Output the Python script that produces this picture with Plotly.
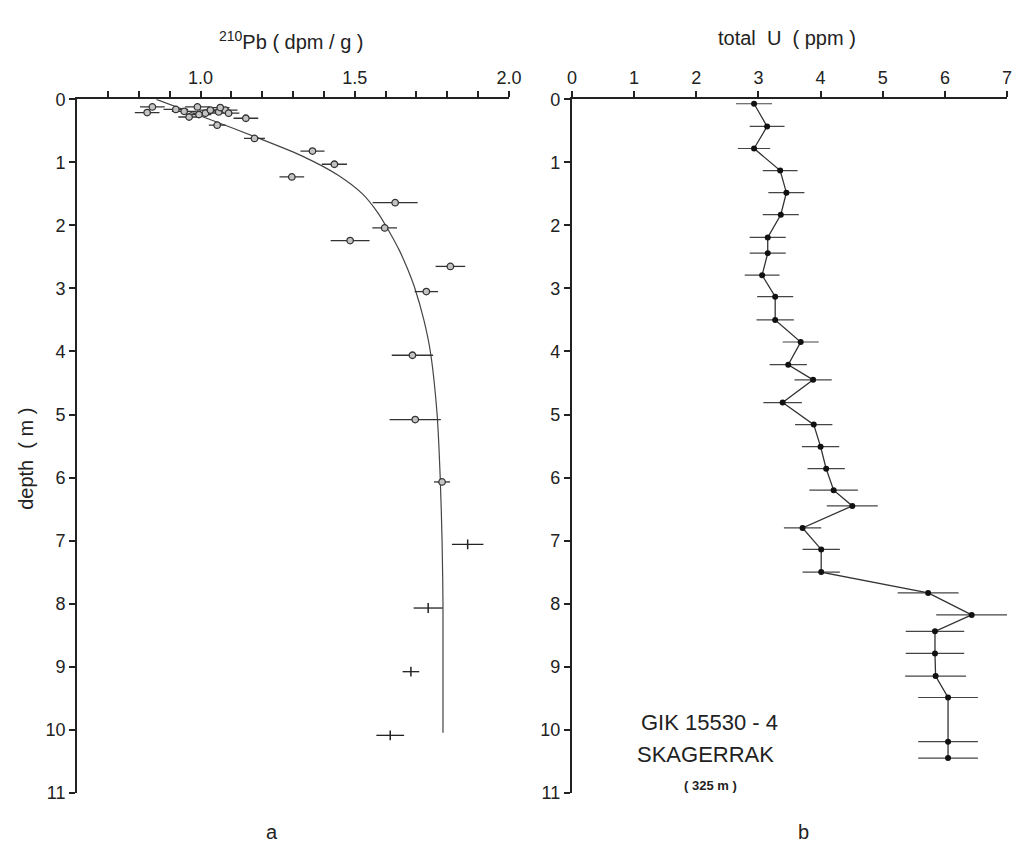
import plotly.graph_objects as go

W, H = 1026, 853

# ---------------- data: panel a (210Pb) ----------------
pb_depth = [0.12, 0.12, 0.16, 0.19, 0.21, 0.22, 0.17, 0.20, 0.17, 0.22, 0.13, 0.24, 0.28,
            0.30, 0.41, 0.62, 0.82, 1.03, 1.23, 1.64, 2.04, 2.24, 2.65, 3.05, 4.06, 5.08, 6.07]
pb_value = [0.844, 0.990, 0.920, 0.947, 0.827, 1.016, 1.032, 1.059, 1.080, 1.091, 1.064, 0.995, 0.963,
            1.147, 1.054, 1.175, 1.363, 1.434, 1.296, 1.631, 1.597, 1.485, 1.810, 1.732, 1.687, 1.696, 1.783]
pb_err = [0.04, 0.04, 0.04, 0.04, 0.04, 0.04, 0.035, 0.035, 0.04, 0.035, 0.03, 0.04, 0.035,
          0.04, 0.027, 0.034, 0.039, 0.041, 0.040, 0.073, 0.040, 0.063, 0.048, 0.038, 0.067, 0.083, 0.026]

pb_depth_deep = [7.06, 8.07, 9.08, 10.09]
pb_value_deep = [1.866, 1.738, 1.682, 1.615]
pb_err_deep = [0.051, 0.047, 0.027, 0.045]

fit_depth = [0.0, 0.3, 0.6, 0.9, 1.2, 1.5, 1.8, 2.1, 2.4, 2.7, 3.0, 3.5, 4.0,
             5.0, 6.0, 7.0, 8.0, 10.05]
fit_value = [0.857, 1.02, 1.18, 1.33, 1.445, 1.525, 1.575, 1.612, 1.645, 1.672, 1.695, 1.724, 1.745,
             1.767, 1.777, 1.783, 1.786, 1.786]

pb_tickvals = [0.7, 0.8, 0.9, 1.0, 1.1, 1.2, 1.3, 1.4, 1.5, 1.6, 1.7, 1.8, 1.9, 2.0]
pb_ticktext = ["", "", "", "1.0", "", "", "", "", "1.5", "", "", "", "", "2.0"]

# ---------------- data: panel b (total U) ----------------
u_depth = [0.07, 0.43, 0.78, 1.13, 1.48, 1.83, 2.19, 2.44, 2.79, 3.13, 3.50, 3.85, 4.21, 4.45,
           4.81, 5.16, 5.51, 5.86, 6.20, 6.45, 6.80, 7.14, 7.50, 7.83, 8.18, 8.44, 8.79, 9.15,
           9.49, 10.19, 10.45]
u_value = [2.93, 3.14, 2.93, 3.35, 3.45, 3.36, 3.15, 3.15, 3.06, 3.27, 3.27, 3.68, 3.48, 3.88,
           3.39, 3.89, 4.00, 4.09, 4.21, 4.51, 3.71, 4.01, 4.01, 5.73, 6.43, 5.84, 5.84, 5.85,
           6.05, 6.05, 6.05]
u_err = [0.29, 0.28, 0.26, 0.28, 0.29, 0.29, 0.29, 0.29, 0.28, 0.29, 0.30, 0.29, 0.30, 0.30,
         0.31, 0.30, 0.30, 0.30, 0.39, 0.41, 0.30, 0.30, 0.30, 0.49, 0.57, 0.47, 0.47, 0.49,
         0.48, 0.48, 0.48]

depth_ticks = list(range(0, 12))
u_ticks = list(range(0, 8))

FONT = "Liberation Sans, Arial, sans-serif"
INK = "#222222"

fig = go.Figure()

# panel a: fitted curve
fig.add_trace(go.Scatter(x=fit_value, y=fit_depth, mode="lines",
                         line=dict(color="#444444", width=1.2, shape="spline", smoothing=0.8),
                         xaxis="x", yaxis="y", showlegend=False, hoverinfo="skip"))
# panel a: measured points
fig.add_trace(go.Scatter(x=pb_value, y=pb_depth, mode="markers",
                         marker=dict(symbol="circle", size=6.5, color="#c4c4c4",
                                     line=dict(color="#333333", width=1.3)),
                         error_x=dict(type="data", array=pb_err, color="#333333",
                                      thickness=1.3, width=0),
                         xaxis="x", yaxis="y", showlegend=False))
fig.add_trace(go.Scatter(x=pb_value_deep, y=pb_depth_deep, mode="markers",
                         marker=dict(symbol="line-ns", size=7,
                                     line=dict(color="#222222", width=1.5)),
                         error_x=dict(type="data", array=pb_err_deep, color="#222222",
                                      thickness=1.3, width=0),
                         xaxis="x", yaxis="y", showlegend=False))

# panel b
fig.add_trace(go.Scatter(x=u_value, y=u_depth, mode="lines+markers",
                         line=dict(color="#333333", width=1.3),
                         marker=dict(symbol="circle", size=6, color="#111111"),
                         error_x=dict(type="data", array=u_err, color="#444444",
                                      thickness=1.2, width=0),
                         xaxis="x2", yaxis="y2", showlegend=False))

# geometry (pixels -> paper)
def px(x):
    return x / W

def py(y):
    return 1 - y / H

top_px, bot_px = 91.5, 801.5
axis_common = dict(showgrid=False, zeroline=False, showline=True, linecolor=INK,
                   linewidth=2, ticks="outside", tickcolor=INK, tickwidth=1.5,
                   ticklen=6, tickfont=dict(family=FONT, size=18, color=INK))

fig.update_layout(
    width=W, height=H,
    margin=dict(l=0, r=0, t=0, b=0),
    paper_bgcolor="white", plot_bgcolor="white",
    xaxis=dict(domain=[px(73.4), px(513)], range=[0.6, 2.0], side="top",
               anchor="y", tickmode="array", tickvals=pb_tickvals, ticktext=pb_ticktext,
               **axis_common),
    yaxis=dict(domain=[py(bot_px), py(top_px)], range=[11, 0], anchor="x",
               tickmode="array", tickvals=depth_ticks, **axis_common),
    xaxis2=dict(domain=[px(577), px(1020)], range=[0, 7], side="top",
                anchor="y2", tickmode="array", tickvals=u_ticks, **axis_common),
    yaxis2=dict(domain=[py(bot_px), py(top_px)], range=[11, 0], anchor="x2",
                tickmode="array", tickvals=depth_ticks, **axis_common),
)

annotations = [
    dict(text="<sup>210</sup>Pb ( dpm / g )", x=px(292), y=py(31), size=20),
    dict(text="total  U  ( ppm )", x=px(796), y=py(29), size=20),
    dict(text="GIK 15530 - 4", x=px(717), y=py(730), size=22),
    dict(text="SKAGERRAK", x=px(713), y=py(762), size=22),
    dict(text="<b>( 325 m )</b>", x=px(718), y=py(794), size=13),
    dict(text="a", x=px(272), y=py(842), size=20),
    dict(text="b", x=px(813), y=py(842), size=20),
]
for a in annotations:
    fig.add_annotation(text=a["text"], x=a["x"], y=a["y"], xref="paper", yref="paper",
                       showarrow=False, xanchor="center", yanchor="middle",
                       font=dict(family=FONT, size=a["size"], color=INK))
fig.add_annotation(text="depth  ( m )", x=px(22), y=py(460), xref="paper", yref="paper",
                   showarrow=False, textangle=-90, xanchor="center", yanchor="middle",
                   font=dict(family=FONT, size=20, color=INK))

fig.write_html("out.html")
